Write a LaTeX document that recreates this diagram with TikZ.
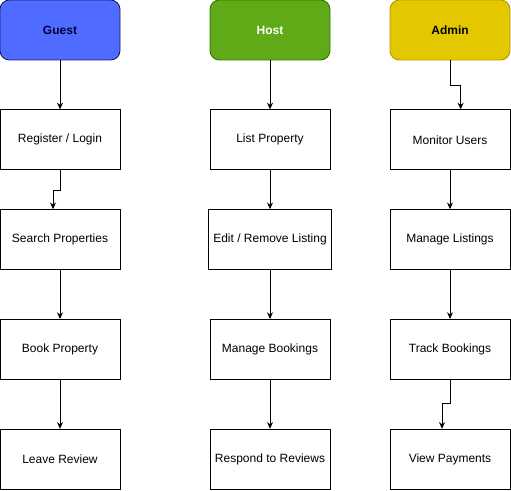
\documentclass[tikz,border=0pt]{standalone}
\usepackage{fontspec}
\setmainfont{Liberation Sans}
\usetikzlibrary{arrows.meta,positioning}
\definecolor{guestfill}{RGB}{80,107,255}
\definecolor{gueststroke}{RGB}{20,30,90}
\definecolor{hostfill}{HTML}{60A917}
\definecolor{hoststroke}{HTML}{2D7600}
\definecolor{adminfill}{HTML}{E3C800}
\definecolor{adminstroke}{HTML}{B09500}

\begin{document}
\begin{tikzpicture}[
  node distance=36.7pt and 0pt,
  font=\fontsize{9}{11}\selectfont,
  role/.style={draw, rounded corners=7pt, line width=0.65pt, align=center, minimum height=45pt, minimum width=90pt, font=\fontsize{9}{11}\selectfont\bfseries},
  box/.style={draw, line width=0.65pt, align=center, minimum height=45pt, minimum width=90pt},
  arr/.style={-{Stealth[length=5pt,width=4.5pt]}, line width=0.65pt}
]
\useasboundingbox (0,0) rectangle (383.25pt,-368.25pt);

% role headers
\node[role, fill=guestfill, draw=gueststroke, text=black!80!blue] (guest) at (45pt,-22.5pt) {Guest};
\node[role, fill=hostfill, draw=hoststroke, text=white] (host) at (202.5pt,-22.5pt) {Host};
\node[role, fill=adminfill, draw=adminstroke] (admin) at (337.5pt,-22.5pt) {Admin};

% guest column
\node[box, below=of guest] (reg) {Register / Login};
\node[box, below=29.2pt of reg] (srch) {Search Properties};
\node[box, below=of srch] (book) {Book Property};
\node[box, below=of book] (review) {Leave Review};

% host column
\node[box, below=of host] (list) {List Property};
\node[box, below=29.2pt of list] (edit) {Edit / Remove Listing};
\node[box, below=of edit] (manage) {Manage Bookings};
\node[box, below=of manage] (respond) {Respond to Reviews};

% admin column
\node[box, below=of admin] (mon) {Monitor Users};
\node[box, below=29.2pt of mon] (mlist) {Manage Listings};
\node[box, below=of mlist] (trk) {Track Bookings};
\node[box, below=of trk] (pay) {View Payments};

\draw[arr] (guest) -- (reg);
\draw[arr] (reg.south) -- ++(0,-15pt) -| ([xshift=-5.25pt]srch.north);
\draw[arr] (srch) -- (book);
\draw[arr] (book) -- (review);

\draw[arr] (host) -- (list);
\draw[arr] (list) -- (edit);
\draw[arr] (edit) -- (manage);
\draw[arr] (manage) -- (respond);

\draw[arr] (admin.south) -- ++(0,-18.75pt) -| ([xshift=8pt]mon.north);
\draw[arr] (mon) -- (mlist);
\draw[arr] (mlist) -- (trk);
\draw[arr] (trk.south) -- ++(0,-18pt) -| ([xshift=-6pt]pay.north);
\end{tikzpicture}
\end{document}
